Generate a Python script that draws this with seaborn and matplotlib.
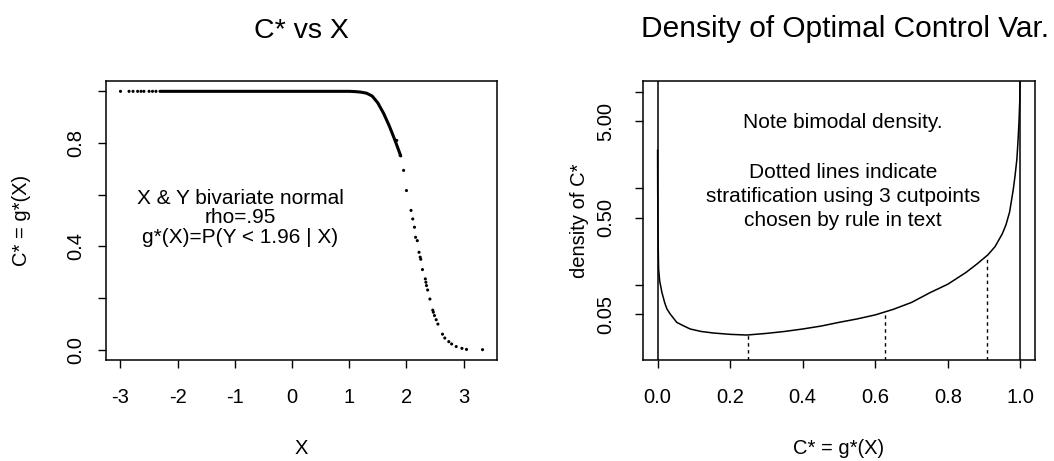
import matplotlib
matplotlib.use("Agg")
import matplotlib.pyplot as plt
import seaborn as sns
import pandas as pd
from matplotlib.ticker import FixedLocator, NullLocator, NullFormatter

sns.set_theme(style="white")
plt.rcParams['font.family'] = ['Liberation Sans', 'DejaVu Sans']
plt.rcParams.update({"text.color": "black", "axes.labelcolor": "black",
                     "xtick.color": "black", "ytick.color": "black"})

# ---------------- data ----------------
# left panel: sparse dots at the left tail
x_left_dots = [-3.00, -2.85, -2.78, -2.70, -2.64, -2.59, -2.50, -2.44, -2.38]
c_left_dots = [1.0, 1.0, 1.0, 1.0, 1.0, 1.0, 1.0, 1.0, 1.0]
# dense part (drawn as a continuous trace of points)
x_dense = [-2.31, -2.0, -1.5, -1.0, -0.5, 0.0, 0.5, 1.0, 1.1, 1.2, 1.3, 1.4,
           1.5, 1.6, 1.7, 1.8, 1.9]
c_dense = [1.0, 1.0, 1.0, 1.0, 1.0, 1.0, 1.0, 1.0, 0.999, 0.997, 0.993, 0.982,
           0.955, 0.915, 0.866, 0.81, 0.75]
# sparse dots at the right tail
x_right_dots = [1.83, 1.89, 1.95, 2.00, 2.08, 2.11, 2.14, 2.16, 2.19, 2.22,
                2.24, 2.25, 2.28, 2.33, 2.34, 2.35, 2.37, 2.41, 2.46, 2.47,
                2.49, 2.52, 2.55, 2.63, 2.67, 2.74, 2.79, 2.87, 2.97, 3.05, 3.33]
c_right_dots = [0.81, 0.752, 0.694, 0.616, 0.539, 0.506, 0.474, 0.435, 0.422, 0.377,
                0.358, 0.350, 0.310, 0.274, 0.261, 0.248, 0.231, 0.196, 0.153, 0.145,
                0.132, 0.116, 0.099, 0.060, 0.045, 0.031, 0.022, 0.012, 0.005, 0.001, 0.0]

# right panel: density curve of C*
c_grid = [0.0002, 0.0005, 0.001, 0.0015, 0.003, 0.006, 0.012, 0.02, 0.026, 0.035,
          0.053, 0.07, 0.09, 0.12, 0.154, 0.2, 0.246, 0.30, 0.35, 0.40, 0.45,
          0.50, 0.55, 0.60, 0.65, 0.70, 0.75, 0.80, 0.85, 0.88, 0.91, 0.93,
          0.95, 0.96, 0.97, 0.98, 0.985, 0.99, 0.993, 0.996, 0.998, 0.9992]
dens = [2.5, 1.0, 0.5, 0.3, 0.146, 0.11, 0.084, 0.065, 0.0564, 0.05,
        0.041, 0.038, 0.035, 0.033, 0.0318, 0.0308, 0.0303, 0.0315, 0.033, 0.035, 0.0375,
        0.041, 0.0445, 0.049, 0.056, 0.066, 0.083, 0.102, 0.135, 0.165, 0.205, 0.25,
        0.34, 0.42, 0.57, 0.97, 1.35, 2.0, 3.0, 5.0, 8.0, 16.0]
cutpoints = [0.248, 0.627, 0.908]
cut_dens = [0.0303, 0.0533, 0.20]

left_xticks = [-3, -2, -1, 0, 1, 2, 3]
left_yticks = [0.0, 0.2, 0.4, 0.6, 0.8, 1.0]
left_ylabels = ["0.0", "", "0.4", "", "0.8", ""]
right_xticks = [0.0, 0.2, 0.4, 0.6, 0.8, 1.0]
right_xlabels = ["0.0", "0.2", "0.4", "0.6", "0.8", "1.0"]
right_yticks = [0.05, 0.1, 0.5, 1, 5, 10]
right_ylabels = ["0.05", "", "0.50", "", "5.00", ""]

# ---------------- figure ----------------
fig = plt.figure(figsize=(10.54, 4.61), dpi=100)
W, H = 1054, 461
axL = fig.add_axes([106 / W, (H - 360) / H, (497 - 106) / W, (360 - 81) / H])
axR = fig.add_axes([643 / W, (H - 360) / H, (1035 - 643) / W, (360 - 81) / H])

fs_tick = 14.5
fs_lab = 14.5
fs_note = 15

# left panel
df_dense = pd.DataFrame({"X": x_dense, "C": c_dense})
sns.lineplot(data=df_dense, x="X", y="C", ax=axL, color="black", linewidth=2.2,
             estimator=None, sort=False)
df_dots = pd.DataFrame({"X": x_left_dots + x_right_dots, "C": c_left_dots + c_right_dots})
sns.scatterplot(data=df_dots, x="X", y="C", ax=axL, color="black", s=5,
                edgecolor="none", linewidth=0)
axL.set_xlim(-3.253, 3.583)
axL.set_ylim(-0.04, 1.04)
axL.set_xticks(left_xticks)
axL.set_xticklabels([str(t) for t in left_xticks])
axL.set_yticks(left_yticks)
axL.set_yticklabels(left_ylabels, rotation=90, va="center")
axL.set_xlabel("X", fontsize=fs_lab, labelpad=23)
axL.set_ylabel("C* = g*(X)", fontsize=fs_lab, labelpad=25)
axL.set_title("C* vs X", fontsize=20.5, pad=31)
axL.text(-0.91, 0.51, "X & Y bivariate normal\nrho=.95\ng*(X)=P(Y < 1.96 | X)",
         ha="center", va="center", fontsize=fs_note, linespacing=1.05)

# right panel
df_den = pd.DataFrame({"c": c_grid, "d": dens})
sns.lineplot(data=df_den, x="c", y="d", ax=axR, color="black", linewidth=1.1,
             estimator=None, sort=False)
axR.set_yscale("log")
axR.set_xlim(-0.04, 1.04)
axR.set_ylim(0.0167, 13.0)
axR.axvline(0.0, color="black", linewidth=1.1)
axR.axvline(1.0, color="black", linewidth=1.1)
for cp, dv in zip(cutpoints, cut_dens):
    axR.plot([cp, cp], [0.0167, dv], color="black", linewidth=1.0,
             linestyle=(0, (2.5, 2.5)))
axR.set_xticks(right_xticks)
axR.set_xticklabels(right_xlabels)
axR.yaxis.set_major_locator(FixedLocator(right_yticks))
axR.yaxis.set_minor_locator(NullLocator())
axR.yaxis.set_minor_formatter(NullFormatter())
axR.set_yticklabels(right_ylabels, rotation=90, va="center")
axR.set_xlabel("C* = g*(X)", fontsize=fs_lab, labelpad=23)
axR.set_ylabel("density of C*", fontsize=fs_lab, labelpad=5)
axR.text(0.515, 1.185, "Density of Optimal Control Var.", transform=axR.transAxes,
         ha="center", va="center", fontsize=21.5)
txt_x = 0.51
axR.text(txt_x, 0.853, "Note bimodal density.", transform=axR.transAxes,
         ha="center", va="center", fontsize=fs_note)
axR.text(txt_x, 0.585, "Dotted lines indicate\nstratification using 3 cutpoints\nchosen by rule in text",
         transform=axR.transAxes, ha="center", va="center", fontsize=fs_note,
         linespacing=1.32)

for ax in (axL, axR):
    for sp in ax.spines.values():
        sp.set_visible(True)
        sp.set_color("black")
        sp.set_linewidth(1.1)
    ax.tick_params(axis="both", which="major", direction="out", length=6,
                   width=1.0, color="black", labelsize=fs_tick,
                   bottom=True, left=True, top=False, right=False)
    ax.tick_params(axis="x", pad=14)
    ax.grid(False)
axL.tick_params(axis="y", pad=9)
axR.tick_params(axis="y", pad=14)

fig.savefig("out.png", dpi=100)
